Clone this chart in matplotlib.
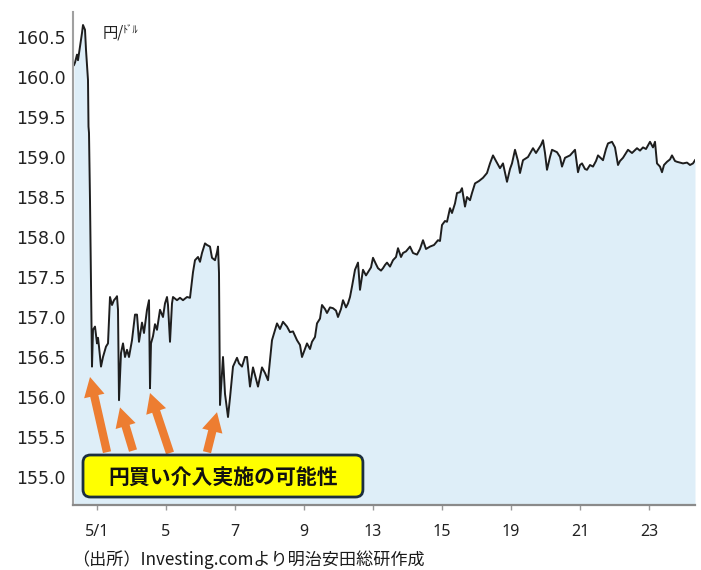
import matplotlib
matplotlib.use("Agg")
import matplotlib.pyplot as plt
from matplotlib.patches import FancyBboxPatch

# ---------------- data ----------------
# time index (trading-time units; 69 units = 2 tick intervals) and USD/JPY price
t_idx = [-23, -22, -20, -19, -17, -15, -14, -12, -11, -9, -8.5, -8, -7, -5, -4, -2, 0, 1, 2, 4, 6, 9, 11,
         13, 15, 17, 19, 20, 21, 22, 24, 26, 28, 30, 32, 35, 38, 40, 42, 45, 47, 50, 52, 53, 54, 56, 58,
         60, 63, 66, 68, 70, 71, 73, 75, 76, 80, 83, 86, 90, 93, 96, 98, 101, 103, 105, 108, 110, 113,
         115, 118, 120, 121, 122, 123, 125, 126, 128, 131, 133, 135, 136, 140, 142, 145, 148,
         150, 153, 156, 161, 165, 168, 171, 175, 180, 183, 186, 190, 193, 196, 200, 203, 205, 208, 210,
         213, 215, 218, 220, 223, 225, 228, 230, 233, 236, 239, 241, 244, 246, 249, 251, 253, 255, 258,
         261, 263, 266, 269, 271, 274, 276, 279, 281, 284, 286, 288, 290, 293, 296, 299, 301, 304, 306,
         309, 313, 316, 320, 323, 326, 329, 333, 337, 341, 343, 345, 348, 350, 353, 355, 358, 360, 363,
         365, 368, 370, 373, 375, 378, 382, 386, 390, 393, 396, 399, 403, 406, 410, 413, 415, 418, 421,
         423, 426, 431, 436, 439, 441, 444, 446, 448, 450, 453, 455, 460, 463, 465, 468, 473, 478, 481,
         483, 485, 488, 490, 493, 496, 499, 501, 506, 509, 511, 515, 518, 521, 523, 526, 531, 535, 540,
         543, 546, 549, 553, 556, 558, 560, 563, 565, 567, 570, 573, 575, 578, 580, 583, 586, 590, 593,
         596, 598]
usdjpy = [160.15, 160.18, 160.28, 160.21, 160.38, 160.55, 160.65, 160.59, 160.34, 159.96, 159.38, 159.30,
          158.46, 156.38, 156.84, 156.88, 156.67, 156.74, 156.63, 156.38, 156.50, 156.63, 156.67,
          157.25, 157.15, 157.21, 157.24, 157.26, 157.09, 155.96, 156.55, 156.67, 156.50, 156.59, 156.50,
          156.71, 157.03, 157.03, 156.69, 156.93, 156.80, 157.09, 157.21, 156.11, 156.67, 156.76, 156.91,
          156.84, 157.09, 157.00, 157.17, 157.25, 157.15, 156.69, 157.17, 157.25, 157.21, 157.24, 157.21,
          157.25, 157.24, 157.56, 157.71, 157.75, 157.69, 157.80, 157.92, 157.90, 157.88,
          157.74, 157.71, 157.81, 157.88, 157.55, 155.90, 156.30, 156.50, 156.04, 155.75, 155.99, 156.25,
          156.38, 156.49, 156.42, 156.38, 156.50,
          156.50, 156.13, 156.37, 156.13, 156.37, 156.30, 156.21, 156.71, 156.92, 156.85, 156.94, 156.88,
          156.81, 156.82, 156.71, 156.65, 156.50, 156.60, 156.67,
          156.60, 156.69, 156.75, 156.92, 156.98, 157.15, 157.10, 157.05, 157.12, 157.11, 157.08, 157.00,
          157.10, 157.21, 157.12, 157.17, 157.25, 157.38, 157.59,
          157.68, 157.34, 157.59, 157.52, 157.56, 157.62, 157.74, 157.66, 157.61, 157.58, 157.61, 157.65,
          157.68, 157.63, 157.71, 157.75, 157.86, 157.75, 157.80,
          157.82, 157.88, 157.80, 157.78, 157.85, 157.96, 157.85, 157.88, 157.90, 157.96, 157.95, 158.15,
          158.20, 158.19, 158.36, 158.30, 158.42, 158.55, 158.56,
          158.61, 158.38, 158.50, 158.46, 158.55, 158.67, 158.70, 158.74, 158.80, 158.92, 159.02, 158.95,
          158.86, 158.92, 158.69, 158.85, 158.92, 159.09, 158.95,
          158.80, 158.96, 159.00, 159.11, 159.05, 159.09, 159.15, 159.21, 159.05, 158.84, 159.00, 159.09,
          159.06, 159.00, 158.88, 158.99, 159.02, 159.09, 158.81,
          158.90, 158.92, 158.85, 158.84, 158.90, 158.88, 158.95, 159.02, 158.96, 159.10, 159.17, 159.19,
          159.12, 158.90, 158.95, 158.99, 159.09, 159.05, 159.11,
          159.08, 159.12, 159.10, 159.19, 159.12, 159.19, 158.92, 158.88, 158.81, 158.90, 158.94, 158.97,
          159.02, 158.95, 158.94, 158.93, 158.92, 158.93, 158.90,
          158.92, 158.96]

tick_idx = [0, 69, 138, 207, 276, 345, 414, 483, 552]
tick_labels = ["5/1", "5", "7", "9", "13", "15", "19", "21", "23"]
y_ticks = [155.0, 155.5, 156.0, 156.5, 157.0, 157.5, 158.0, 158.5, 159.0, 159.5, 160.0, 160.5]

# intervention points: (arrow tip, arrow tail) in data units
arrows = [((-7, 156.25), (10, 155.31)),
          ((23, 155.87), (36, 155.33)),
          ((53, 156.05), (73, 155.30)),
          ((120, 155.81), (110, 155.31))]

unit_label = "円/"
unit_small = "ﾄﾞﾙ"
box_text = "円買い介入実施の可能性"
source_text = "（出所）Investing.comより明治安田総研作成"

# ---------------- plot ----------------
plt.rcParams['font.family'] = ['DejaVu Sans', 'Noto Sans CJK JP']
W, H = 701, 570
fig = plt.figure(figsize=(W / 100, H / 100), dpi=100)
ax = fig.add_axes([73 / W, (H - 505) / H, 622 / W, 493 / H])

ymin = 154.65
ax.fill_between(t_idx, usdjpy, ymin, color="#deeef8", lw=0)
ax.plot(t_idx, usdjpy, color="#1e1e1e", lw=1.4, solid_joinstyle="round")

ax.set_xlim(-24, 598)
ax.set_ylim(ymin, 160.8125)

ax.set_yticks(y_ticks)
ax.set_yticklabels([f"{v:.1f}" for v in y_ticks])
ax.tick_params(axis="y", length=0, pad=5, labelsize=12.5, labelcolor="#222222")
ax.set_xticks(tick_idx)
ax.set_xticklabels(tick_labels, fontfamily=["Noto Sans"])
ax.tick_params(axis="x", length=3.5, width=1, color="#999999", pad=10, labelsize=11.5,
               labelcolor="#222222", direction="out")

for s in ["top", "right"]:
    ax.spines[s].set_visible(False)
ax.spines["left"].set_color("#a0a0a0")
ax.spines["left"].set_linewidth(1.5)
ax.spines["bottom"].set_color("#8a8a8a")
ax.spines["bottom"].set_linewidth(1.6)

# unit label
ax.text(0.047, 0.958, unit_label, transform=ax.transAxes, fontsize=11,
        family=["Noto Sans CJK JP", "DejaVu Sans"], color="#222222", va="center", ha="left")
ax.text(0.080, 0.962, unit_small, transform=ax.transAxes, fontsize=7.5,
        family=["Noto Sans CJK JP", "DejaVu Sans"], color="#222222", va="center", ha="left")

# arrows
for tip, tail in arrows:
    ax.annotate("", xy=tip, xytext=tail,
                arrowprops=dict(arrowstyle="simple,head_length=1.4,head_width=1.5,tail_width=0.6",
                                color="#ED7D31", lw=0, shrinkA=0, shrinkB=0, mutation_scale=10))

# yellow box
aw, ah = 622, 493
box = FancyBboxPatch((0.0161, 0.0162), 0.450, 0.0852,
                     boxstyle="round,pad=0,rounding_size=0.012",
                     mutation_aspect=aw / ah,
                     transform=ax.transAxes, facecolor="#FFFF00", edgecolor="#1c2f40",
                     linewidth=2.0, zorder=5)
ax.add_patch(box)
ax.text(0.241, 0.057, box_text, transform=ax.transAxes, fontsize=15, fontweight="bold",
        family=["Noto Sans CJK JP", "DejaVu Sans"], color="#111111",
        ha="center", va="center", zorder=6)

# source
fig.text(72 / W, 1 - 560 / H, source_text, fontsize=12.3,
         family=["Noto Sans CJK JP", "DejaVu Sans"], color="#1a1a1a", ha="left", va="center")

fig.savefig("out.png", dpi=100)
